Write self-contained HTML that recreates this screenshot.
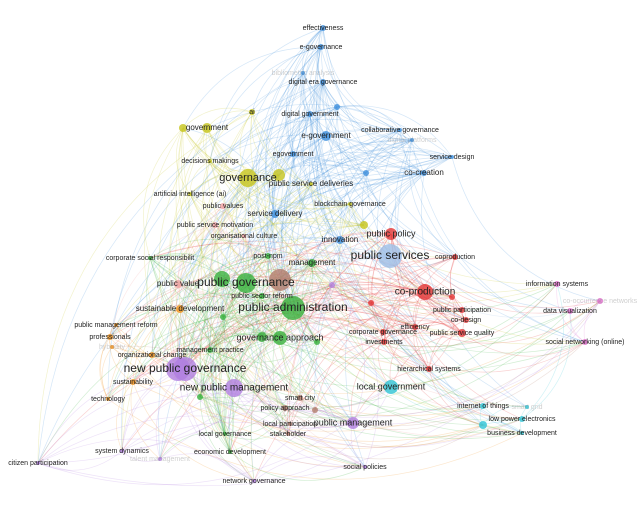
<!DOCTYPE html>
<html><head><meta charset="utf-8"><style>
body{margin:0;background:#fff;width:643px;height:509px;overflow:hidden}
svg text{font-family:"Liberation Sans",sans-serif;fill:#222;text-anchor:middle;dominant-baseline:middle}
</style></head><body>
<svg id="s" width="643" height="509" xmlns="http://www.w3.org/2000/svg">
<g id="e" fill="none"></g><g id="n"></g><g id="t"></g>
</svg>
<script>
var C={b:"#3d8fdc",y:"#c6c41c",r:"#e23434",g:"#38b03c",br:"#b07a6a",o:"#f0921e",p:"#b07ee0",c:"#2ec4d6",k:"#e06ccc",lb:"#9cbde6",pk:"#f0a0a0"};
var N=[
["effectiveness",323,28,3,"b",7],["e-governance",321,47,3,"b",7],["digital era governance",323,82,3,"b",7],["bibliometric analysis",303,73,2,"b",7,1],
["digital government",310,114,3,"b",7],["e-government",326,136,5,"b",8],["egovernment",293,154,3,"b",7],["collaborative governance",400,130,2,"b",7],["digital platforms",412,140,2,"b",7,1],
["service design",452,157,2,"b",7],["co-creation",424,173,3,"b",8],["service delivery",275,214,4,"b",8],["innovation",340,240,4,"b",8],["",366,173,3,"b",7],["",337,107,3,"b",7],
["ai",252,112,3,"y",7],["government",207,128,5,"y",8],["",183,128,4,"y",7],["decisions makings",210,161,2,"y",7],["governance",248,178,9,"y",11],["",279,175,6,"y",7],
["public service deliveries",311,184,2,"y",8],["artificial intelligence (ai)",190,194,2,"y",7],["blockchain governance",350,204,2,"y",7],["",364,225,4,"y",7],
["public values",223,206,3,"pk",7],["public service motivation",215,225,3,"pk",7],["organisational culture",244,236,2,"pk",7],["public value",178,284,4,"pk",8],
["public policy",391,234,6,"r",9],["co-production",425,292,8,"r",10],["coproduction",455,257,3,"r",7],["public participation",462,310,3,"r",7],["co-design",466,320,3,"r",7],
["public service quality",462,333,4,"r",7],["efficiency",415,327,3,"r",7],["corporate governance",383,332,3,"r",7],["investments",384,342,3,"r",7],["hierarchical systems",429,369,3,"r",7],["",371,303,3,"r",7],["",452,297,3,"r",7],
["public services",390,256,12,"lb",12],
["",222,279,8,"g",7],["public governance",246,283,10,"g",12],["public administration",293,308,12,"g",12],["public sector reform",262,296,3,"g",7],["governance approach",280,338,7,"g",9],["",262,337,5,"g",7],
["management practice",210,350,3,"g",7],["management",312,263,4,"g",8],["post-npm",268,256,3,"g",7],["local governance",225,434,2,"g",7],["economic development",230,452,2,"g",7],
["corporate social responsibilit",150,258,2,"g",7],["",223,317,3,"g",7],["",200,397,3,"g",7],["",317,342,3,"g",7],
["",280,280,11,"br",7],["smart city",300,398,3,"br",7],["policy approach",285,408,3,"br",7],["local participation",290,424,2,"br",7],["stakeholder",288,434,2,"br",7],["",315,410,3,"br",7],
["sustainable development",180,309,4,"o",8],["public management reform",116,325,2,"o",7],["professionals",110,337,3,"o",7],["hybridity",112,347,2,"o",7,1],["organizational change",152,355,3,"o",7],["sustainability",133,382,3,"o",7],["technology",108,399,2,"o",7],
["new public governance",185,369,12,"p",12],["",178,369,12,"p",7],["new public management",234,388,9,"p",10],["public management",353,423,6,"p",9],["social policies",365,467,2,"p",7],
["network governance",254,481,2,"p",7],["citizen participation",38,463,2,"p",7],["system dynamics",122,451,2,"p",7],["talent management",160,459,2,"p",7,1],["",332,285,3,"p",7],
["local government",391,387,7,"c",9],["internet of things",483,406,3,"c",7],["smart grid",527,407,2,"c",7,1],["low power electronics",522,419,3,"c",7],["business development",522,433,2,"c",7],["",483,425,4,"c",7],
["information systems",557,284,3,"k",7],["co-occurrence networks",600,301,3,"k",7,1],["data visualization",570,311,3,"k",7],["social networking (online)",585,342,3,"k",7]
];
var seed=7;function R(){seed=(seed*16807)%2147483647;return seed/2147483647;}
var eg="";
for(var i=0;i<N.length;i++)for(var j=i+1;j<N.length;j++){
 var a=N[i],b=N[j],same=a[4]==b[4];var pr=same?0.7:0.09;if(a[3]+b[3]>14)pr+=0.25;
 if(R()<pr){var mx=(a[1]+b[1])/2,my=(a[2]+b[2])/2,dx=b[1]-a[1],dy=b[2]-a[2],k=0.3;
 var cx=mx-dy*k,cy=my+dx*k;
 eg+='<path d="M'+a[1]+' '+a[2]+'Q'+cx.toFixed(1)+' '+cy.toFixed(1)+' '+b[1]+' '+b[2]+'" stroke="'+C[a[4]]+'" stroke-opacity="0.22" stroke-width="0.7"/>';}
}
document.getElementById("e").innerHTML=eg;
var ng="",tg="";
N.forEach(function(d){ng+='<circle cx="'+d[1]+'" cy="'+d[2]+'" r="'+d[3]+'" fill="'+C[d[4]]+'" fill-opacity="0.8"/>';
 if(d[0])tg+='<text x="'+d[1]+'" y="'+d[2]+'" font-size="'+d[5]+'"'+(d[6]?' fill-opacity="0.4" style="fill:#888"':'')+'>'+d[0]+'</text>';});
document.getElementById("n").innerHTML=ng;document.getElementById("t").innerHTML=tg;
</script>
</body></html>
